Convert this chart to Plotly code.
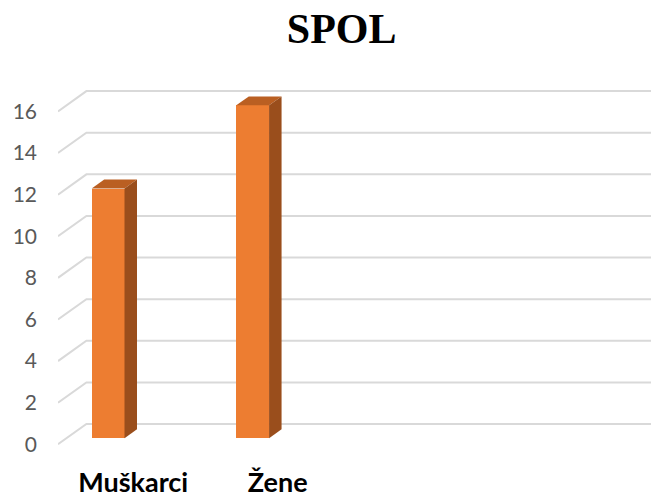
import plotly.graph_objects as go

# data
categories = ["Muškarci", "Žene"]
values = [12, 16]
y_ticks = [0, 2, 4, 6, 8, 10, 12, 14, 16]

# pseudo-3d geometry (front plane in axis coords, depth pushes up/right)
DX = 0.1965
DY = 0.976
T_FRONT = 0.30
T_BACK = 0.74
BAR_W = 0.227
BAR_X0 = 0.174
X_MAX = 4.157

FRONT = "#ED7D31"
TOP = "#BA5F22"
SIDE = "#9A4E1C"
GRID = "#D9D9D9"


def proj(x, y, t):
    return x + t * DX, y + t * DY


fig = go.Figure()

# back wall gridlines with the diagonal side edge, kept under the bars
for v in y_ticks:
    fig.add_shape(type="path", xref="x", yref="y", layer="below",
                  path=f"M 0 {v} L {DX} {v + DY} L {X_MAX} {v + DY}",
                  line=dict(color=GRID, width=2))

for i, (cat, val) in enumerate(zip(categories, values)):
    x0 = i + BAR_X0
    x1 = x0 + BAR_W
    # top face
    pts = [proj(x0, val, T_FRONT), proj(x1, val, T_FRONT),
           proj(x1, val, T_BACK), proj(x0, val, T_BACK)]
    fig.add_trace(go.Scatter(x=[p[0] for p in pts] + [pts[0][0]],
                             y=[p[1] for p in pts] + [pts[0][1]],
                             fill="toself", fillcolor=TOP, mode="lines",
                             line=dict(width=0, color=TOP),
                             hoverinfo="skip", showlegend=False))
    # side face
    pts = [proj(x1, 0, T_FRONT), proj(x1, 0, T_BACK),
           proj(x1, val, T_BACK), proj(x1, val, T_FRONT)]
    fig.add_trace(go.Scatter(x=[p[0] for p in pts] + [pts[0][0]],
                             y=[p[1] for p in pts] + [pts[0][1]],
                             fill="toself", fillcolor=SIDE, mode="lines",
                             line=dict(width=0, color=SIDE),
                             hoverinfo="skip", showlegend=False))

# front faces
fig.add_trace(go.Bar(
    x=[i + BAR_X0 + T_FRONT * DX + BAR_W / 2 for i in range(len(categories))],
    y=values,
    base=[T_FRONT * DY] * len(values),
    width=BAR_W,
    marker=dict(color=FRONT, line=dict(width=0)),
    hovertext=categories,
    showlegend=False,
))

# page body has an 8px margin, so the figure is sized 8px smaller
fig.update_layout(
    width=651, height=486,
    margin=dict(l=50, r=0, t=72, b=34),
    paper_bgcolor="white", plot_bgcolor="white",
    title=dict(text="<b>SPOL</b>", x=0.5126, xanchor="center",
               y=1 - 20 / 486, yanchor="middle",
               font=dict(family="Liberation Serif", size=42, color="black")),
    xaxis=dict(range=[0, X_MAX], showgrid=False, zeroline=False, showline=False,
               tickvals=[i + 0.52 for i in range(len(categories))],
               ticktext=categories, ticks="", ticklabelstandoff=4,
               tickfont=dict(family="Lato", size=27, color="black", weight="bold"),
               automargin=False, fixedrange=True),
    yaxis=dict(range=[-0.755, 17.51], showgrid=False, zeroline=False, showline=False,
               tickvals=y_ticks, ticks="", ticklabelstandoff=20,
               tickfont=dict(family="Lato", size=21, color="#595959"),
               automargin=False, fixedrange=True),
    bargap=0,
)

fig.write_html("out.html")
